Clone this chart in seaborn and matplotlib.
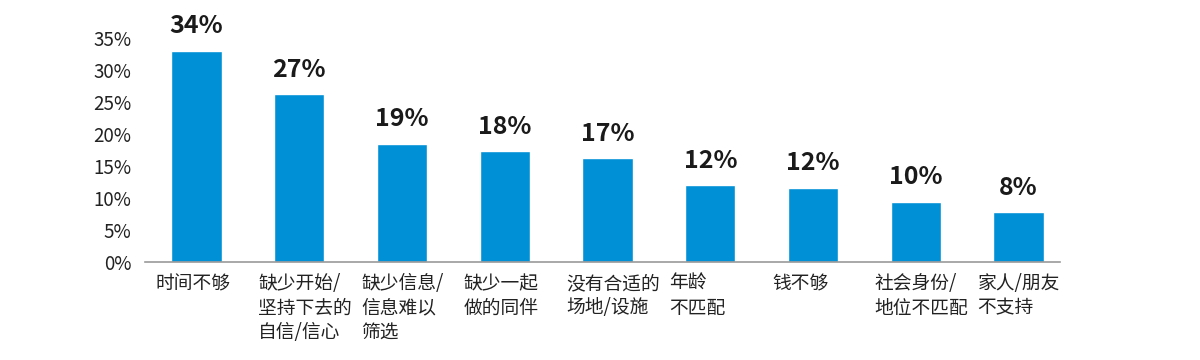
import pandas as pd
import seaborn as sns
from matplotlib import pyplot as plt
from matplotlib import transforms
from matplotlib.ticker import FuncFormatter

# data
categories = ['时间不够', '缺少开始/\n坚持下去的\n自信/信心', '缺少信息/\n信息难以\n筛选',
              '缺少一起\n做的同伴', '没有合适的\n场地/设施', '年龄\n不匹配',
              '钱不够', '社会身份/\n地位不匹配', '家人/朋友\n不支持']
values = [33.0, 26.2, 18.5, 17.3, 16.2, 12.0, 11.6, 9.4, 7.8]
labels = ['34%', '27%', '19%', '18%', '17%', '12%', '12%', '10%', '8%']

sns.set_style('white')
plt.rcParams['font.family'] = ['Noto Sans CJK SC', 'DejaVu Sans']

df = pd.DataFrame({'reason': categories, 'share': values})

fig, ax = plt.subplots(figsize=(12, 3.6), dpi=100)
fig.subplots_adjust(left=0.121, right=0.883, bottom=0.272, top=0.894)

sns.barplot(data=df, x='reason', y='share', color='#0090d5', width=0.49,
            saturation=1, ax=ax)

for i, (v, lab) in enumerate(zip(values, labels)):
    ax.annotate(lab, (i, v), xytext=(0, 9), textcoords='offset points',
                ha='center', va='bottom', fontsize=18, fontweight='bold',
                color='#1a1a1a', annotation_clip=False)

ax.set_xlim(-0.5, len(categories) - 0.6)
ax.set_ylim(0, 35)
ax.set_yticks(range(0, 36, 5))
ax.yaxis.set_major_formatter(FuncFormatter(lambda y, _: f'{int(y)}%'))
ax.set_xlabel('')
ax.set_ylabel('')

for s in ['top', 'right', 'left']:
    ax.spines[s].set_visible(False)
ax.spines['bottom'].set_color('#9a9a9a')
ax.spines['bottom'].set_linewidth(1.2)

ax.tick_params(axis='both', length=0, labelsize=13.5, colors='#222222')
ax.tick_params(axis='y', pad=10)
ax.tick_params(axis='x', pad=8)

# left-align the category labels a bit left of each bar
shift = transforms.ScaledTranslation(-41 / 100, 0, fig.dpi_scale_trans)
for t in ax.get_xticklabels():
    t.set_ha('left')
    t.set_linespacing(1.2)
    t.set_transform(t.get_transform() + shift)

fig.savefig('out.png')
